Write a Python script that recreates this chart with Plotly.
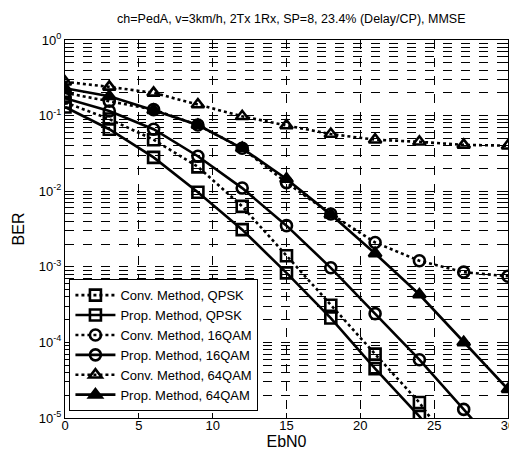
import plotly.graph_objects as go

ebn0 = [0, 3, 6, 9, 12, 15, 18, 21, 24, 27, 30]

conv_qpsk = [0.15, 0.09, 0.048, 0.021, 0.0063, 0.0014, 0.00031, 7.0e-5, 1.6e-5, 2.5e-6]
prop_qpsk = [0.13, 0.066, 0.028, 0.0097, 0.0031, 0.00083, 0.00021, 4.5e-5, 1.05e-5, 2.0e-6]
conv_16qam = [0.20, 0.155, 0.12, 0.075, 0.037, 0.013, 0.005, 0.0021, 0.0012, 0.00085, 0.00075]
prop_16qam = [0.17, 0.115, 0.066, 0.029, 0.011, 0.0035, 0.00097, 0.00024, 5.9e-5, 1.3e-5, 2.8e-6]
conv_64qam = [0.28, 0.24, 0.20, 0.14, 0.098, 0.074, 0.057, 0.048, 0.045, 0.041, 0.040]
prop_64qam = [0.23, 0.18, 0.118, 0.075, 0.037, 0.0145, 0.0049, 0.0015, 0.00043, 0.0001, 2.4e-5]

names = ["Conv. Method, QPSK", "Prop. Method, QPSK",
         "Conv. Method, 16QAM", "Prop. Method, 16QAM",
         "Conv. Method, 64QAM", "Prop. Method, 64QAM"]
series = [conv_qpsk, prop_qpsk, conv_16qam, prop_16qam, conv_64qam, prop_64qam]
symbols = ["square-open", "square-open", "circle-open", "circle-open",
           "triangle-up-open", "triangle-up"]
dashes = ["dot", "solid", "dot", "solid", "dot", "solid"]

y_ticks = [1, 0.1, 0.01, 0.001, 0.0001, 0.00001]
y_ticktext = ["10<sup>0</sup>", "10<sup>-1</sup>", "10<sup>-2</sup>",
              "10<sup>-3</sup>", "10<sup>-4</sup>", "10<sup>-5</sup>"]
x_ticks = [0, 5, 10, 15, 20, 25, 30]

fig = go.Figure()
for name, vals, sym, dash in zip(names, series, symbols, dashes):
    fig.add_trace(go.Scatter(
        x=ebn0[:len(vals)], y=vals, name=name, mode="lines+markers",
        line=dict(color="black", width=2.6, dash=dash),
        marker=dict(symbol=sym, size=11, color="black",
                    line=dict(color="black", width=2.6)),
    ))

grid = dict(gridcolor="black", griddash="dash", gridwidth=1)
fig.update_layout(
    width=517, height=451,
    margin=dict(l=56, r=10, t=32, b=41),
    paper_bgcolor="white", plot_bgcolor="white",
    font=dict(family="Liberation Sans, Arial, sans-serif", size=13, color="black"),
    title=dict(text="ch=PedA, v=3km/h, 2Tx 1Rx, SP=8, 23.4% (Delay/CP), MMSE",
               x=0.548, xanchor="center", y=0.976, yanchor="middle",
               font=dict(size=12.5)),
    xaxis=dict(range=[0, 30], tickvals=x_ticks, showline=True, linecolor="black",
               linewidth=1.2, mirror="ticks", ticks="inside", ticklen=5,
               tickcolor="black", showgrid=True, zeroline=False,
               ticklabelstandoff=-5, ticklabeloverflow="allow",
               title=dict(text="EbN0", standoff=2), **grid),
    yaxis=dict(type="log", range=[-5, 0], tickvals=y_ticks, ticktext=y_ticktext,
               showline=True, linecolor="black", linewidth=1.2, mirror="ticks",
               ticks="inside", ticklen=5, tickcolor="black", showgrid=True,
               zeroline=False, title=dict(text="BER", standoff=10),
               minor=dict(dtick="D1", showgrid=True, ticks="inside", ticklen=3,
                          tickcolor="black", **grid),
               **grid),
    legend=dict(x=0.01, y=0.018, xanchor="left", yanchor="bottom",
                bgcolor="white", bordercolor="black", borderwidth=1,
                font=dict(size=13), tracegroupgap=0, itemwidth=40),
    showlegend=True,
)

fig.write_html("out.html")
